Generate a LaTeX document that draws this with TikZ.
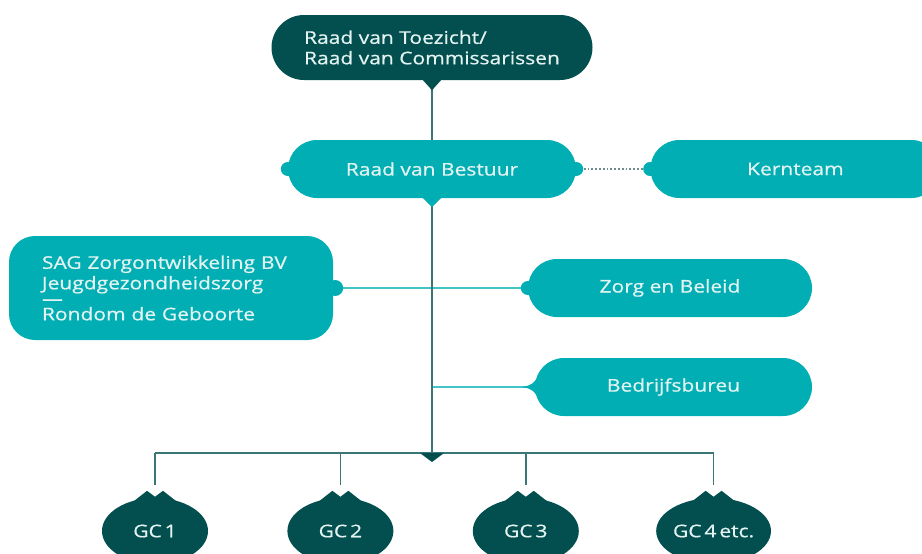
\documentclass[tikz,border=0pt]{standalone}
\usepackage{fontspec}
\setmainfont{Open Sans}[FakeStretch=1.2, FakeBold=0.7]
\usetikzlibrary{shapes,arrows,positioning}

\definecolor{sagdark}{HTML}{034E4E}
\definecolor{saglight}{HTML}{00AEB4}
\definecolor{sagtext}{HTML}{E2F3F2}
\definecolor{trunkline}{HTML}{3B7676}
\definecolor{branchline}{HTML}{40C4C8}
\definecolor{dotline}{HTML}{6E8E8E}

\begin{document}
\begin{tikzpicture}[x=1pt, y=-1pt,
    label font/.style={font=\fontsize{17.5}{20.5}\selectfont},
    pill/.style={rounded rectangle, fill=saglight, text=sagtext, label font, minimum height=58pt, inner sep=0pt},
    darkpill/.style={pill, fill=sagdark, minimum height=65pt},
    gcnode/.style={ellipse, fill=sagdark, text=sagtext, label font, minimum width=106pt, minimum height=66pt, inner sep=0pt},
    trunk/.style={draw=trunkline, line width=1.8pt},
    branch/.style={draw=branchline, line width=1.6pt},
    dotted line/.style={draw=dotline, line width=1.8pt, dotted}
]
    \useasboundingbox (0,0) rectangle (922,554);

    % Nodes
    \node[darkpill, minimum width=321pt, align=left] (toezicht) at (432,47.5) {Raad van Toezicht/\\Raad van Commissarissen};
    \node[pill, minimum width=288pt] (bestuur) at (432,169) {Raad van Bestuur};
    \node[pill, minimum width=290pt, right=74pt of bestuur] (kernteam) {Kernteam};
    \node[pill, minimum width=284pt] (zorg) at (670,288) {Zorg en Beleid};
    \node[pill, minimum width=277pt] (bedrijf) at (673.5,387) {Bedrijfsbureu};
    \node[rectangle, rounded corners=26pt, fill=saglight, text=sagtext, label font, align=left,
          minimum width=324pt, minimum height=104pt, text width=258pt, inner sep=0pt] (sag) at (171,288)
          {SAG Zorgontwikkeling BV\\Jeugdgezondheidszorg\\[-5pt]—\\[-5pt]Rondom de Geboorte};
    \coordinate (bus) at (432,453);
    \node[gcnode] (gc1) at (155,531) {GC\,1};
    \node[gcnode, right=79pt of gc1] (gc2) {GC\,2};
    \node[gcnode, right=79pt of gc2] (gc3) {GC\,3};
    \node[gcnode, right=77pt of gc3] (gc4) {GC\,4\,etc.};

    % Arrows
    \draw[branch] (sag.east) -- (zorg.west);
    \draw[branch] (bus |- bedrijf.west) -- (bedrijf.west);
    \draw[dotted line] (bestuur.east) -- (kernteam.west);
    \draw[trunk] (toezicht.south) -- (bestuur.north);
    \draw[trunk] (bestuur.south) -- (bus);
    \draw[trunk] (gc1 |- bus) -- (gc4 |- bus);
    \draw[trunk] (gc1 |- bus) -- ([yshift=13pt]gc1.north);
    \draw[trunk] (gc2 |- bus) -- ([yshift=13pt]gc2.north);
    \draw[trunk] (gc3 |- bus) -- ([yshift=13pt]gc3.north);
    \draw[trunk] (gc4 |- bus) -- ([yshift=13pt]gc4.north);

    % Knobs and tips
    \fill[saglight] (bestuur.west) circle (7pt);
    \fill[saglight] (bestuur.east) circle (7pt);
    \fill[saglight] (kernteam.west) circle (7pt);
    \fill[saglight] (zorg.west) circle (7pt);
    \fill[saglight] ([xshift=2pt]sag.east) circle (8pt);
    \fill[saglight] ([xshift=-13pt]bedrijf.west) .. controls ([xshift=-2pt,yshift=2pt]bedrijf.west) .. ([xshift=8pt,yshift=18pt]bedrijf.west)
        -- ([xshift=8pt,yshift=-18pt]bedrijf.west) .. controls ([xshift=-2pt,yshift=-2pt]bedrijf.west) .. ([xshift=-13pt]bedrijf.west) -- cycle;
    \fill[sagdark] ([xshift=-9pt]toezicht.south) -- ([xshift=9pt]toezicht.south) -- ([yshift=-10pt]toezicht.south) -- cycle;
    \fill[saglight] ([xshift=-9pt]bestuur.south) -- ([xshift=9pt]bestuur.south) -- ([yshift=-9pt]bestuur.south) -- cycle;
    \fill[sagdark] ([xshift=-12pt]bus) -- ([xshift=12pt]bus) -- ([yshift=-9pt]bus) -- cycle;
    \fill[sagdark] ([xshift=-22pt,yshift=-4pt]gc1.north) -- ([xshift=-8pt,yshift=7pt]gc1.north) -- ([yshift=1pt]gc1.north) -- ([xshift=8pt,yshift=7pt]gc1.north) -- ([xshift=22pt,yshift=-4pt]gc1.north) -- cycle;
    \fill[sagdark] ([xshift=-22pt,yshift=-4pt]gc2.north) -- ([xshift=-8pt,yshift=7pt]gc2.north) -- ([yshift=1pt]gc2.north) -- ([xshift=8pt,yshift=7pt]gc2.north) -- ([xshift=22pt,yshift=-4pt]gc2.north) -- cycle;
    \fill[sagdark] ([xshift=-22pt,yshift=-4pt]gc3.north) -- ([xshift=-8pt,yshift=7pt]gc3.north) -- ([yshift=1pt]gc3.north) -- ([xshift=8pt,yshift=7pt]gc3.north) -- ([xshift=22pt,yshift=-4pt]gc3.north) -- cycle;
    \fill[sagdark] ([xshift=-22pt,yshift=-4pt]gc4.north) -- ([xshift=-8pt,yshift=7pt]gc4.north) -- ([yshift=1pt]gc4.north) -- ([xshift=8pt,yshift=7pt]gc4.north) -- ([xshift=22pt,yshift=-4pt]gc4.north) -- cycle;
\end{tikzpicture}
\end{document}
